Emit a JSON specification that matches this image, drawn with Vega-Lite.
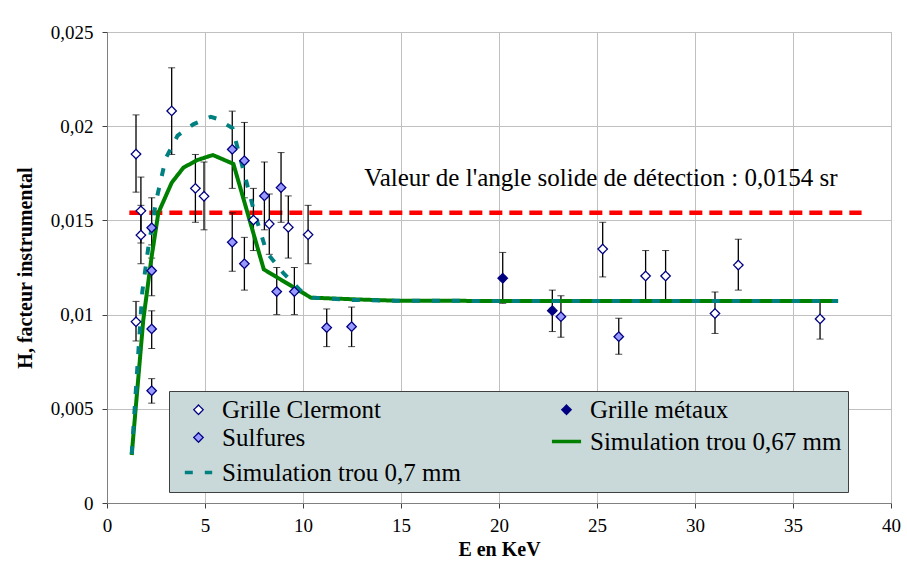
{
  "$schema": "https://vega.github.io/schema/vega-lite/v6.json",
  "width": 784,
  "height": 471,
  "autosize": "none",
  "padding": {"left": 107, "top": 32, "right": 16, "bottom": 66},
  "background": "white",
  "config": {
    "font": "Liberation Serif",
    "view": {"stroke": "#a0a0a0", "strokeWidth": 1},
    "axis": {
      "grid": true, "gridColor": "#c0c0c0", "gridWidth": 1,
      "domainColor": "#808080", "tickColor": "#404040", "tickSize": 5,
      "labelFont": "Liberation Serif", "labelFontSize": 19, "labelColor": "black",
      "titleFont": "Liberation Serif", "titleFontSize": 20, "titleFontWeight": "bold", "titleColor": "black"
    },
    "legend": {
      "orient": "none", "legendX": 62, "legendY": 359,
      "columns": 2, "fillColor": "#C9D9D9", "strokeColor": "#404040",
      "padding": 6, "labelFont": "Liberation Serif", "labelFontSize": 25, "labelColor": "black",
      "symbolOffset": 7, "columnPadding": 82, "rowPadding": 2, "labelOffset": 7, "labelLimit": 400
    }
  },
  "datasets": {
    "pts": [
      {"E": 1.48, "H": 0.01852, "lo": 0.0165, "hi": 0.0206, "series": "Grille Clermont"},
      {"E": 1.73, "H": 0.01551, "lo": 0.0138, "hi": 0.0173, "series": "Grille Clermont"},
      {"E": 1.73, "H": 0.01422, "lo": 0.0127, "hi": 0.0158, "series": "Grille Clermont"},
      {"E": 1.48, "H": 0.00962, "lo": 0.0086, "hi": 0.0107, "series": "Grille Clermont"},
      {"E": 3.30, "H": 0.02081, "lo": 0.0185, "hi": 0.0231, "series": "Grille Clermont"},
      {"E": 4.51, "H": 0.01670, "lo": 0.0149, "hi": 0.0185, "series": "Grille Clermont"},
      {"E": 4.95, "H": 0.01628, "lo": 0.0145, "hi": 0.0181, "series": "Grille Clermont"},
      {"E": 7.47, "H": 0.01502, "lo": 0.0134, "hi": 0.0167, "series": "Grille Clermont"},
      {"E": 8.28, "H": 0.01481, "lo": 0.0132, "hi": 0.0164, "series": "Grille Clermont"},
      {"E": 9.25, "H": 0.01463, "lo": 0.0130, "hi": 0.0163, "series": "Grille Clermont"},
      {"E": 10.26, "H": 0.01424, "lo": 0.0127, "hi": 0.0158, "series": "Grille Clermont"},
      {"E": 25.29, "H": 0.01348, "lo": 0.0120, "hi": 0.0149, "series": "Grille Clermont"},
      {"E": 27.48, "H": 0.01205, "lo": 0.0107, "hi": 0.0134, "series": "Grille Clermont"},
      {"E": 28.50, "H": 0.01205, "lo": 0.0107, "hi": 0.0134, "series": "Grille Clermont"},
      {"E": 31.02, "H": 0.01006, "lo": 0.0090, "hi": 0.0112, "series": "Grille Clermont"},
      {"E": 32.21, "H": 0.01263, "lo": 0.0113, "hi": 0.0140, "series": "Grille Clermont"},
      {"E": 36.38, "H": 0.00977, "lo": 0.0087, "hi": 0.0108, "series": "Grille Clermont"},
      {"E": 20.19, "H": 0.01193, "lo": 0.0106, "hi": 0.0133, "series": "Grille métaux"},
      {"E": 22.72, "H": 0.01021, "lo": 0.0091, "hi": 0.0113, "series": "Grille métaux"},
      {"E": 2.28, "H": 0.01461, "lo": 0.0130, "hi": 0.0162, "series": "Sulfures"},
      {"E": 2.28, "H": 0.01233, "lo": 0.0110, "hi": 0.0137, "series": "Sulfures"},
      {"E": 2.28, "H": 0.00924, "lo": 0.0082, "hi": 0.0102, "series": "Sulfures"},
      {"E": 2.28, "H": 0.00596, "lo": 0.0053, "hi": 0.0066, "series": "Sulfures"},
      {"E": 6.39, "H": 0.01877, "lo": 0.0167, "hi": 0.0208, "series": "Sulfures"},
      {"E": 7.01, "H": 0.01817, "lo": 0.0162, "hi": 0.0202, "series": "Sulfures"},
      {"E": 6.39, "H": 0.01384, "lo": 0.0123, "hi": 0.0154, "series": "Sulfures"},
      {"E": 7.01, "H": 0.01270, "lo": 0.0113, "hi": 0.0141, "series": "Sulfures"},
      {"E": 8.03, "H": 0.01630, "lo": 0.0145, "hi": 0.0181, "series": "Sulfures"},
      {"E": 8.88, "H": 0.01674, "lo": 0.0149, "hi": 0.0186, "series": "Sulfures"},
      {"E": 8.66, "H": 0.01122, "lo": 0.0100, "hi": 0.0125, "series": "Sulfures"},
      {"E": 9.56, "H": 0.01122, "lo": 0.0100, "hi": 0.0125, "series": "Sulfures"},
      {"E": 11.21, "H": 0.00931, "lo": 0.0083, "hi": 0.0103, "series": "Sulfures"},
      {"E": 12.48, "H": 0.00936, "lo": 0.0083, "hi": 0.0104, "series": "Sulfures"},
      {"E": 23.16, "H": 0.00989, "lo": 0.0088, "hi": 0.0110, "series": "Sulfures"},
      {"E": 26.11, "H": 0.00883, "lo": 0.0079, "hi": 0.0098, "series": "Sulfures"}
    ],
    "sim067": [
      {"E": 1.26, "H": 0.00255, "series": "Simulation trou 0,67 mm"},
      {"E": 1.85, "H": 0.0097, "series": "Simulation trou 0,67 mm"},
      {"E": 2.28, "H": 0.0131, "series": "Simulation trou 0,67 mm"},
      {"E": 2.62, "H": 0.0154, "series": "Simulation trou 0,67 mm"},
      {"E": 3.3, "H": 0.0170, "series": "Simulation trou 0,67 mm"},
      {"E": 3.9, "H": 0.0178, "series": "Simulation trou 0,67 mm"},
      {"E": 4.6, "H": 0.0182, "series": "Simulation trou 0,67 mm"},
      {"E": 5.4, "H": 0.01847, "series": "Simulation trou 0,67 mm"},
      {"E": 6.45, "H": 0.0180, "series": "Simulation trou 0,67 mm"},
      {"E": 8.0, "H": 0.0124, "series": "Simulation trou 0,67 mm"},
      {"E": 10.4, "H": 0.0109, "series": "Simulation trou 0,67 mm"},
      {"E": 12.9, "H": 0.0108, "series": "Simulation trou 0,67 mm"},
      {"E": 15.0, "H": 0.01073, "series": "Simulation trou 0,67 mm"},
      {"E": 37.3, "H": 0.01072, "series": "Simulation trou 0,67 mm"}
    ],
    "sim07": [
      {"E": 1.26, "H": 0.0026, "series": "Simulation trou 0,7 mm"},
      {"E": 1.8, "H": 0.0112, "series": "Simulation trou 0,7 mm"},
      {"E": 2.1, "H": 0.0135, "series": "Simulation trou 0,7 mm"},
      {"E": 2.5, "H": 0.0160, "series": "Simulation trou 0,7 mm"},
      {"E": 3.0, "H": 0.0183, "series": "Simulation trou 0,7 mm"},
      {"E": 3.6, "H": 0.0195, "series": "Simulation trou 0,7 mm"},
      {"E": 4.4, "H": 0.0201, "series": "Simulation trou 0,7 mm"},
      {"E": 5.3, "H": 0.0205, "series": "Simulation trou 0,7 mm"},
      {"E": 5.6, "H": 0.0204, "series": "Simulation trou 0,7 mm"},
      {"E": 6.4, "H": 0.0199, "series": "Simulation trou 0,7 mm"},
      {"E": 7.1, "H": 0.0171, "series": "Simulation trou 0,7 mm"},
      {"E": 7.5, "H": 0.0155, "series": "Simulation trou 0,7 mm"},
      {"E": 8.15, "H": 0.0133, "series": "Simulation trou 0,7 mm"},
      {"E": 9.0, "H": 0.0122, "series": "Simulation trou 0,7 mm"},
      {"E": 9.85, "H": 0.0113, "series": "Simulation trou 0,7 mm"},
      {"E": 10.5, "H": 0.0109, "series": "Simulation trou 0,7 mm"},
      {"E": 12.5, "H": 0.01078, "series": "Simulation trou 0,7 mm"},
      {"E": 15.0, "H": 0.01073, "series": "Simulation trou 0,7 mm"},
      {"E": 37.3, "H": 0.01072, "series": "Simulation trou 0,7 mm"}
    ],
    "angle": [
      {"E": 1.14, "H": 0.0154},
      {"E": 38.5, "H": 0.0154}
    ],
    "note": [
      {"E": 25.2, "H": 0.01725, "text": "Valeur de l'angle solide de détection : 0,0154 sr"}
    ]
  },
  "encoding": {
    "x": {"field": "E", "type": "quantitative", "title": "E en KeV",
          "scale": {"domain": [0, 40], "nice": false},
          "axis": {"values": [0, 5, 10, 15, 20, 25, 30, 35, 40], "title": "E en KeV", "labelPadding": 8, "titlePadding": 4, "labelFlush": false}},
    "y": {"field": "H", "type": "quantitative", "title": "H, facteur instrumental",
          "scale": {"domain": [0, 0.025], "nice": false, "zero": true},
          "axis": {"values": [0, 0.005, 0.01, 0.015, 0.02, 0.025], "title": "H, facteur instrumental",
                   "labelExpr": "replace(format(datum.value, '~g'), '.', ',')", "labelPadding": 9, "titlePadding": 15}}
  },
  "layer": [
    {
      "data": {"name": "angle"},
      "mark": {"type": "line", "color": "#FF0000", "strokeWidth": 4.5, "strokeDash": [13, 7]}
    },
    {
      "data": {"name": "pts"},
      "mark": {"type": "errorbar", "ticks": {"size": 7, "color": "black"}, "rule": {"color": "black", "strokeWidth": 1.3}},
      "encoding": {
        "y": {"field": "lo", "type": "quantitative", "title": "H, facteur instrumental"},
        "y2": {"field": "hi"}
      }
    },
    {
      "data": {"name": "sim067"},
      "mark": {"type": "line", "strokeWidth": 4},
      "encoding": {
        "stroke": {"field": "series", "type": "nominal", "legend": {"title": null}},
        "strokeDash": {"field": "series", "type": "nominal", "legend": {"title": null}}
      }
    },
    {
      "data": {"name": "sim07"},
      "mark": {"type": "line", "strokeWidth": 4},
      "encoding": {
        "stroke": {"field": "series", "type": "nominal", "legend": {"title": null}},
        "strokeDash": {"field": "series", "type": "nominal", "legend": {"title": null}}
      }
    },
    {
      "data": {"name": "pts"},
      "mark": {"type": "point", "filled": true, "opacity": 1},
      "encoding": {
        "fill": {
          "field": "series", "type": "nominal", "legend": {"title": null},
          "scale": {
            "domain": ["Grille Clermont", "Sulfures", "Simulation trou 0,7 mm", "Grille métaux", "Simulation trou 0,67 mm"],
            "range": ["#FFFFFF", "#9999FF", "transparent", "#000080", "transparent"]
          }
        },
        "stroke": {
          "field": "series", "type": "nominal", "legend": {"title": null},
          "scale": {
            "domain": ["Grille Clermont", "Sulfures", "Simulation trou 0,7 mm", "Grille métaux", "Simulation trou 0,67 mm"],
            "range": ["#000080", "#000080", "#008080", "#000080", "#008000"]
          }
        },
        "shape": {
          "field": "series", "type": "nominal", "legend": {"title": null},
          "scale": {
            "domain": ["Grille Clermont", "Sulfures", "Simulation trou 0,7 mm", "Grille métaux", "Simulation trou 0,67 mm"],
            "range": ["diamond", "diamond", "stroke", "diamond", "stroke"]
          }
        },
        "strokeDash": {
          "field": "series", "type": "nominal", "legend": {"title": null},
          "scale": {
            "domain": ["Grille Clermont", "Sulfures", "Simulation trou 0,7 mm", "Grille métaux", "Simulation trou 0,67 mm"],
            "range": [[1, 0], [1, 0], [8, 12], [1, 0], [1, 0]]
          }
        },
        "strokeWidth": {
          "field": "series", "type": "nominal", "legend": {"title": null},
          "scale": {
            "type": "ordinal",
            "domain": ["Grille Clermont", "Sulfures", "Simulation trou 0,7 mm", "Grille métaux", "Simulation trou 0,67 mm"],
            "range": [1.3, 1.3, 3.5, 1.3, 3.5]
          }
        },
        "size": {
          "field": "series", "type": "nominal", "legend": {"title": null},
          "scale": {
            "type": "ordinal",
            "domain": ["Grille Clermont", "Sulfures", "Simulation trou 0,7 mm", "Grille métaux", "Simulation trou 0,67 mm"],
            "range": [90, 90, 750, 90, 850]
          }
        }
      }
    },
    {
      "data": {"name": "note"},
      "mark": {"type": "text", "font": "Liberation Serif", "fontSize": 25, "color": "black", "align": "center", "baseline": "middle"},
      "encoding": {
        "text": {"field": "text"}
      }
    }
  ]
}
